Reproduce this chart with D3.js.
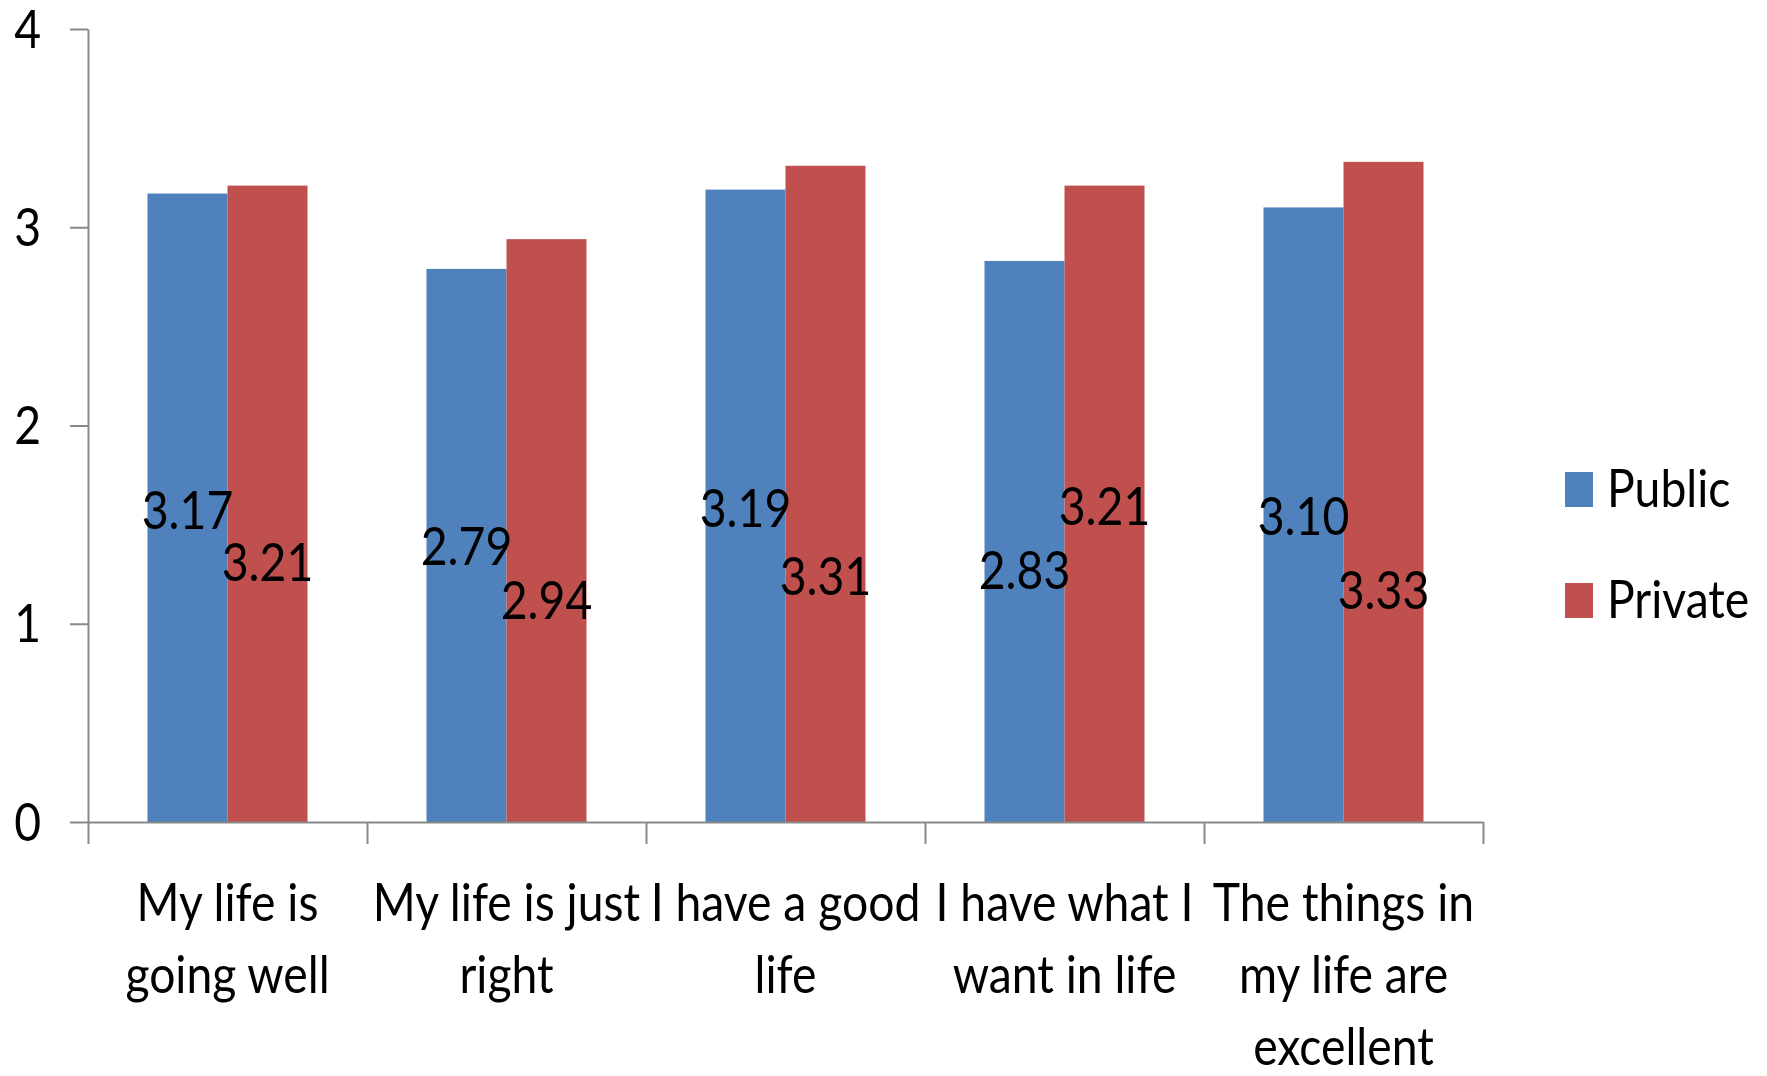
<!DOCTYPE html>
<html>
<head>
<meta charset="utf-8">
<script src="https://cdn.jsdelivr.net/npm/d3@7"></script>
<style>
  body { margin: 0; background: #fff; }
  text { font-family: Lato, "Open Sans", sans-serif; fill: #000; }
</style>
</head>
<body>
<div id="chart"></div>
<script>
// data
const categories = ['My life is going well', 'My life is just right', 'I have a good life',
    'I have what I want in life', 'The things in my life are excellent'];
const categoryLines = [
    ['My life is', 'going well'],
    ['My life is just', 'right'],
    ['I have a good', 'life'],
    ['I have what I', 'want in life'],
    ['The things in', 'my life are', 'excellent']
];
const seriesNames = ['Public', 'Private'];
const publicValues = [3.17, 2.79, 3.19, 2.83, 3.10];
const privateValues = [3.21, 2.94, 3.31, 3.21, 3.33];
// where each value label sits, in axis units (labels were placed by hand)
const publicLabelAt = [1.57, 1.39, 1.58, 1.27, 1.54];
const privateLabelAt = [1.31, 1.12, 1.24, 1.59, 1.17];
const yTicks = [0, 1, 2, 3, 4];

const colors = ['#4f81bd', '#c0504d'];
const axisColor = '#898989';
const fontSize = 52;
const squeeze = 0.89;   // the source image is narrowed horizontally

const width = 1767, height = 1076;
const margin = { left: 88, right: 284, top: 29, bottom: 254 };

const svg = d3.select('#chart')
    .append('svg')
    .attr('width', width)
    .attr('height', height);

const x0 = d3.scaleBand()
    .domain(categories)
    .range([margin.left, width - margin.right])
    .paddingInner(0.4265)
    .paddingOuter(0.4265 / 2);
const x1 = d3.scaleBand()
    .domain(seriesNames)
    .range([0, x0.bandwidth()]);
const xEdges = d3.scaleLinear()
    .domain([0, categories.length])
    .range([margin.left, width - margin.right]);
const y = d3.scaleLinear()
    .domain([0, 4])
    .range([height - margin.bottom, margin.top]);

const addText = (g, str, px, py, anchor) => g.append('text')
    .attr('transform', `translate(${px},${py}) scale(${squeeze},1)`)
    .attr('text-anchor', anchor)
    .style('font-size', fontSize + 'px')
    .text(str);

// bars
const rows = categories.map((c, i) => ({
    cat: c,
    vals: [
        { s: 'Public', v: publicValues[i], at: publicLabelAt[i] },
        { s: 'Private', v: privateValues[i], at: privateLabelAt[i] }
    ]
}));

const groups = svg.selectAll('.grp')
    .data(rows)
    .enter()
    .append('g')
    .classed('grp', true)
    .attr('transform', d => `translate(${x0(d.cat)},0)`);

groups.selectAll('rect')
    .data(d => d.vals)
    .enter()
    .append('rect')
    .attr('x', d => x1(d.s))
    .attr('y', d => y(d.v))
    .attr('width', x1.bandwidth())
    .attr('height', d => y(0) - y(d.v))
    .style('fill', (d, i) => colors[i]);

// axes
const yAxis = d3.axisLeft(y)
    .tickValues(yTicks)
    .tickSize(18)
    .tickSizeOuter(0)
    .tickFormat('');
svg.append('g')
    .attr('transform', `translate(${margin.left},0)`)
    .call(yAxis);

const xAxis = d3.axisBottom(xEdges)
    .tickValues(d3.range(categories.length + 1))
    .tickSize(22)
    .tickSizeOuter(0)
    .tickFormat('');
svg.append('g')
    .attr('transform', `translate(0,${y(0)})`)
    .call(xAxis);

svg.selectAll('.domain, .tick line')
    .attr('stroke', axisColor)
    .attr('stroke-width', 2);

// y tick labels
yTicks.forEach(t => addText(svg, t, 41, y(t) + 0.358 * fontSize, 'end'));

// category labels
categoryLines.forEach((lines, i) => {
    const cx = x0(categories[i]) + x0.bandwidth() / 2;
    lines.forEach((ln, j) => addText(svg, ln, cx, 921 + j * 72, 'middle'));
});

// value labels
groups.each(function(d) {
    const g = d3.select(this);
    d.vals.forEach(v => {
        addText(g, v.v.toFixed(2), x1(v.s) + x1.bandwidth() / 2,
            y(v.at) + 0.358 * fontSize, 'middle');
    });
});

// legend
const legend = svg.append('g')
    .attr('transform', 'translate(1565,472)');
seriesNames.forEach((s, i) => {
    legend.append('rect')
        .attr('x', 0)
        .attr('y', i * 111)
        .attr('width', 28)
        .attr('height', 35)
        .style('fill', colors[i]);
    addText(legend, s, 42, i * 111 + 35, 'start');
});
</script>
</body>
</html>
